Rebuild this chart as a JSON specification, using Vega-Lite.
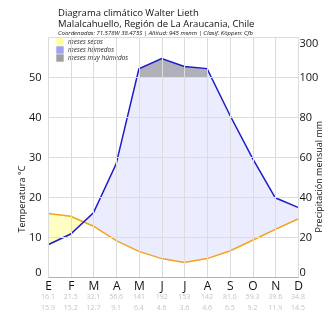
{
  "$schema": "https://vega.github.io/schema/vega-lite/v6.json",
  "width": 250,
  "height": 240,
  "autosize": {"type": "none"},
  "padding": {"left": 48, "top": 37, "right": 32, "bottom": 53},
  "background": "white",
  "config": {"font": "Open Sans", "view": {"stroke": null}},
  "title": {
    "text": ["Diagrama climático Walter Lieth", "Malalcahuello, Región de La Araucania, Chile"],
    "subtitle": "Coordenadas: 71.578W 38.475S | Altitud: 945 msnm | Clasif. Köppen: Cfb",
    "anchor": "start", "frame": "group", "dx": 10,
    "fontSize": 9.5, "fontWeight": "normal", "color": "#111", "lineHeight": 11.5,
    "subtitleFontSize": 6, "subtitleFontStyle": "italic", "subtitleColor": "#111",
    "subtitlePadding": 1.5, "offset": 1
  },
  "data": {"values": [
    {"m": 1, "p": 16.1, "t": 15.9},
    {"m": 2, "p": 21.5, "t": 15.2},
    {"m": 3, "p": 32.1, "t": 12.7},
    {"m": 4, "p": 56.6, "t": 9.1},
    {"m": 5, "p": 141, "t": 6.4},
    {"m": 6, "p": 192, "t": 4.6},
    {"m": 7, "p": 153, "t": 3.6},
    {"m": 8, "p": 142, "t": 4.6},
    {"m": 9, "p": 81.0, "t": 6.5},
    {"m": 10, "p": 59.3, "t": 9.2},
    {"m": 11, "p": 39.6, "t": 11.9},
    {"m": 12, "p": 34.8, "t": 14.5}
  ]},
  "encoding": {
    "x": {
      "field": "m", "type": "quantitative",
      "scale": {"domain": [1, 12], "nice": false, "zero": false},
      "axis": {
        "values": [1,2,3,4,5,6,7,8,9,10,11,12],
        "labelExpr": "['E','F','M','A','M','J','J','A','S','O','N','D'][datum.value-1]",
        "title": null, "grid": true, "gridColor": "#dcdcdc", "ticks": false,
        "domainColor": "#b0b0b0", "labelFontSize": 12, "labelColor": "#111",
        "labelPadding": 3, "labelFlush": false, "labelOverlap": false, "zindex": 1
      }
    }
  },
  "layer": [
    {
      "mark": {"type": "area", "fill": "#ececfc"},
      "encoding": {
        "y": {"field": "p", "type": "quantitative", "scale": {"domain": [0, 100, 300], "range": [240, 40, 0]}, "axis": null},
        "y2": {"datum": 0}
      }
    },
    {
      "mark": {"type": "area", "fill": "#ffffc4"},
      "encoding": {
        "y": {"field": "t", "type": "quantitative", "scale": {"domain": [0, 60], "nice": false}, "axis": null},
        "y2": {"datum": 0}
      }
    },
    {
      "mark": {"type": "area", "fill": "#0000ff", "blend": "screen"},
      "encoding": {
        "y": {"field": "p", "type": "quantitative", "scale": {"domain": [0, 100, 300], "range": [240, 40, 0]}, "axis": null},
        "y2": {"datum": 0}
      }
    },
    {
      "transform": [{"filter": "datum.m >= 5 && datum.m <= 8"}],
      "mark": {"type": "area", "fill": "#b0b0ba"},
      "encoding": {
        "y": {"field": "p", "type": "quantitative", "scale": {"domain": [0, 100, 300], "range": [240, 40, 0]}, "axis": null},
        "y2": {"datum": 100}
      }
    },
    {
      "mark": {"type": "line", "color": "#f4a21c", "strokeWidth": 1.5},
      "encoding": {
        "y": {
          "field": "t", "type": "quantitative", "scale": {"domain": [0, 60], "nice": false},
          "axis": {
            "orient": "left", "values": [0,10,20,30,40,50,60],
            "labelExpr": "datum.value == 60 ? '' : datum.label",
            "grid": true, "gridColor": "#dcdcdc", "ticks": false, "domain": false,
            "labelFontSize": 11, "labelColor": "#111", "labelPadding": 7, "labelFlush": true,
            "title": "Temperatura °C", "titleFontSize": 9, "titleFontWeight": "normal", "titleColor": "#111",
            "titleAngle": 270, "titleAlign": "left", "titleBaseline": "middle", "titleX": -27, "titleY": 195,
            "zindex": 1
          }
        }
      }
    },
    {
      "mark": {"type": "line", "color": "#1c1cc8", "strokeWidth": 1.5},
      "encoding": {
        "y": {
          "field": "p", "type": "quantitative", "scale": {"domain": [0, 100, 300], "range": [240, 40, 0]},
          "axis": {
            "orient": "right", "values": [0,20,40,60,80,100,300],
            "grid": false, "ticks": false, "domain": false,
            "labelFontSize": 11, "labelColor": "#111", "labelPadding": 1, "labelFlush": true,
            "title": "Precipitación mensual mm", "titleFontSize": 9, "titleFontWeight": "normal", "titleColor": "#111",
            "titleAngle": 270, "titleAlign": "left", "titleBaseline": "middle", "titleX": 20, "titleY": 195,
            "zindex": 1
          }
        }
      }
    },
    {
      "mark": {"type": "text", "fontSize": 7, "color": "#c4c4c4", "baseline": "middle"},
      "encoding": {
        "y": {"datum": -5, "scale": {"domain": [0, 60], "nice": false}, "axis": null},
        "text": {"field": "p", "type": "quantitative", "format": ".3r"}
      }
    },
    {
      "mark": {"type": "text", "fontSize": 7, "color": "#c4c4c4", "baseline": "middle"},
      "encoding": {
        "y": {"datum": -7.75, "scale": {"domain": [0, 60], "nice": false}, "axis": null},
        "text": {"field": "t", "type": "quantitative", "format": ".1f"}
      }
    },
    {
      "data": {"values": [{}]},
      "mark": {"type": "text", "text": "Mes", "fontSize": 7.5, "color": "#c4c4c4", "align": "left", "baseline": "middle"},
      "encoding": {
        "x": {"datum": -0.98},
        "y": {"datum": -2.25, "scale": {"domain": [0, 60], "nice": false}, "axis": null}
      }
    },
    {
      "data": {"values": [{}]},
      "mark": {"type": "text", "text": "Prec", "fontSize": 7.5, "color": "#c4c4c4", "align": "left", "baseline": "middle"},
      "encoding": {
        "x": {"datum": -0.98},
        "y": {"datum": -5, "scale": {"domain": [0, 60], "nice": false}, "axis": null}
      }
    },
    {
      "data": {"values": [{}]},
      "mark": {"type": "text", "text": "Temp", "fontSize": 7.5, "color": "#c4c4c4", "align": "left", "baseline": "middle"},
      "encoding": {
        "x": {"datum": -0.98},
        "y": {"datum": -7.75, "scale": {"domain": [0, 60], "nice": false}, "axis": null}
      }
    },
    {
      "data": {"values": [{}]},
      "mark": {"type": "text", "text": "Precipitación anual: 973.3 mm | Temperatura promedio: 9.5 C | Mediciones entre 1989-2018", "fontSize": 6, "fontStyle": "italic", "color": "#222", "align": "left", "baseline": "middle"},
      "encoding": {
        "x": {"datum": -0.98},
        "y": {"datum": -10.25, "scale": {"domain": [0, 60], "nice": false}, "axis": null}
      }
    },
    {
      "data": {"values": [{}]},
      "mark": {"type": "text", "text": "Fuente: https://catalogue.ceda.ac.uk/uuid/89e1e34ec3154d6b9594a5712622bced", "fontSize": 6, "fontStyle": "italic", "color": "#222", "align": "left", "baseline": "middle", "angle": 270},
      "encoding": {
        "x": {"datum": -0.89},
        "y": {"datum": 9.25, "scale": {"domain": [0, 60], "nice": false}, "axis": null}
      }
    },
    {
      "data": {"values": [{}]},
      "mark": {"type": "rule", "color": "#f4a21c", "strokeWidth": 1.5},
      "encoding": {
        "x": {"datum": 0.0},
        "y": {"datum": 10, "scale": {"domain": [0, 60], "nice": false}, "axis": null},
        "y2": {"datum": 5.5}
      }
    },
    {
      "data": {"values": [{}]},
      "mark": {"type": "rule", "color": "#1c1cc8", "strokeWidth": 1.5},
      "encoding": {
        "x": {"datum": 12.88},
        "y": {"datum": 10, "scale": {"domain": [0, 60], "nice": false}, "axis": null},
        "y2": {"datum": 5.5}
      }
    },
    {
      "data": {"values": [{"c": "meses secos"}, {"c": "meses húmedos"}, {"c": "meses muy húmedos"}]},
      "mark": {"type": "square", "opacity": 0},
      "encoding": {
        "x": {"datum": 1},
        "y": {"datum": 0, "scale": {"domain": [0, 60], "nice": false}, "axis": null},
        "color": {
          "field": "c", "type": "nominal",
          "scale": {"domain": ["meses secos", "meses húmedos", "meses muy húmedos"], "range": ["#ffff99", "#a0a0f0", "#a0a0a0"]},
          "legend": {
            "title": null, "orient": "none", "legendX": 8, "legendY": 1,
            "symbolType": "square", "symbolSize": 55, "symbolOpacity": 1, "symbolStrokeWidth": 0,
            "labelFontSize": 6.5, "labelFontStyle": "italic", "labelColor": "#222",
            "rowPadding": 0, "labelOffset": 4, "padding": 0
          }
        }
      }
    }
  ],
  "resolve": {"scale": {"y": "independent"}}
}
